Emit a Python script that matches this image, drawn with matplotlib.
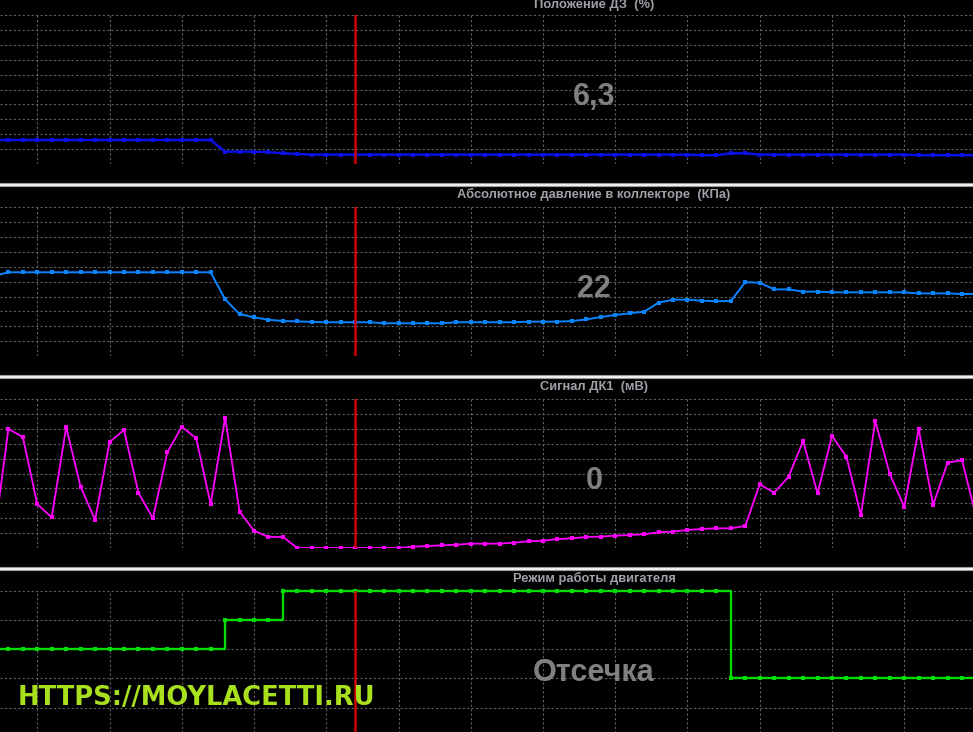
import matplotlib
matplotlib.use('Agg')
import matplotlib.pyplot as plt
from matplotlib.lines import Line2D

# sample index (cursor at sample 24)
samples = list(range(-1, 68))
cursor = 24

# Положение ДЗ (%)
tps = [16.1, 16.1, 16.1, 16.1, 16.1, 16.1, 16.1, 16.1, 16.1, 16.1, 16.1, 16.1, 16.1, 16.1, 16.1, 16.1,
       8.3, 8.3, 8.3, 7.9, 7.2, 6.7,
       6.3, 6.3, 6.3, 6.3, 6.3, 6.3, 6.3, 6.3, 6.3, 6.3, 6.3, 6.3, 6.3, 6.3, 6.3, 6.3, 6.3, 6.3,
       6.3, 6.3, 6.3, 6.3, 6.3, 6.3, 6.3, 6.3, 6.3,
       5.9, 5.9, 7.2, 7.2,
       6.3, 6.3, 6.3, 6.3, 6.3, 6.3, 6.3, 6.3, 6.3, 6.3, 6.3,
       5.9, 5.9, 5.9, 5.9, 5.9]

# Абсолютное давление в коллекторе (КПа)
map_kpa = [53.8,
           56.3, 56.3, 56.3, 56.3, 56.3, 56.3, 56.3, 56.3, 56.3, 56.3, 56.3, 56.3, 56.3, 56.3, 56.3,
           38.1, 28.2, 26.0, 24.4, 23.5, 23.3, 22.9, 22.7, 22.7, 22.7, 22.7,
           22.0, 22.0, 22.0, 22.0, 22.0, 22.7, 22.7,
           22.7, 22.7, 22.7, 23.1, 23.1, 23.1, 23.5, 24.6, 26.2, 27.6, 28.7, 29.8,
           35.9, 37.9, 37.9, 37.2, 36.8, 37.0, 49.6, 49.3, 44.8, 44.8, 43.3, 43.3,
           42.8, 42.8, 42.8, 42.8, 42.8, 42.8, 42.1, 42.1, 42.1, 41.7, 41.7]

# Сигнал ДК1 (мВ)
o2_mv = [60, 799, 745, 293, 206, 810, 411, 188, 711, 792, 371, 199, 642, 814, 736, 293,
         874, 244, 116, 74, 74,
         0, 0, 0, 0, 0, 0, 0, 0,
         9, 13, 18, 22, 29, 29, 29, 36, 45, 49, 60, 65, 74, 76, 83, 87, 92,
         105, 110, 121, 128, 132, 132, 148,
         427, 371, 479, 718, 367, 752, 613, 221, 852, 497, 277, 799, 289, 573, 589, 200]

# Режим работы двигателя
mode = [3, 3, 3, 3, 3, 3, 3, 3, 3, 3, 3, 3, 3, 3, 3, 3,
        4, 4, 4, 4,
        5, 5, 5, 5, 5, 5, 5, 5, 5, 5, 5, 5, 5, 5, 5, 5, 5, 5, 5, 5, 5, 5, 5, 5, 5, 5, 5, 5, 5, 5, 5,
        2, 2, 2, 2, 2, 2, 2, 2, 2, 2, 2, 2, 2, 2, 2, 2, 2, 2]

titles = ['Положение ДЗ  (%)', 'Абсолютное давление в коллекторе  (КПа)',
          'Сигнал ДК1  (мВ)', 'Режим работы двигателя']
values = ['6,3', '22', '0', 'Отсечка']

W, H = 973, 732
fig = plt.figure(figsize=(W / 100, H / 100), dpi=100, facecolor='black')

def px_axes(top, bottom):
    return fig.add_axes([0, (H - bottom) / H, 1, (bottom - top) / H])

grid_kw = dict(color='#606060', linestyle=(0, (2, 2)), linewidth=0.8)
mk = dict(marker='s', markersize=2.4, markeredgewidth=0)

def style(ax, ymax, ndiv):
    ax.set_facecolor('black')
    ax.set_xlim(-0.58, 66.76)
    ax.set_ylim(0, ymax)
    ax.set_xticks(range(2, 67, 5))
    ax.set_yticks([ymax * k / ndiv for k in range(ndiv + 1)])
    ax.tick_params(length=0, labelbottom=False, labelleft=False)
    for s in ax.spines.values():
        s.set_visible(False)
    ax.grid(True, **grid_kw)
    ax.set_axisbelow(True)
    ax.axvline(cursor, color='#d00000', linewidth=1.8, zorder=5)

# panel pixel bounds (grid top, grid bottom)
bounds = [(15, 164), (207.3, 356), (399, 548), (590.7, 736.7)]

ax1 = px_axes(*bounds[0])
style(ax1, 100, 10)
ax1.plot(samples, tps, color='#0a10e6', linewidth=1.8, **mk)

ax2 = px_axes(*bounds[1])
style(ax2, 100, 10)
ax2.plot(samples, map_kpa, color='#0a84ff', linewidth=1.4, **mk)

ax3 = px_axes(*bounds[2])
style(ax3, 1000, 10)
ax3.plot(samples, o2_mv, color='#ff00ff', linewidth=1.3, **mk)

ax4 = px_axes(*bounds[3])
style(ax4, 5, 5)
ax4.plot(samples, mode, color='#00dd00', linewidth=1.7, drawstyle='steps-post',
         clip_on=False, **mk)

# titles and current values
title_y = [5, 194.5, 387, 578.5]
value_y = [97, 289, 481, 673]
for t, ty, v, vy in zip(titles, title_y, values, value_y):
    fig.text(594 / W, 1 - ty / H, t, color='#a0a0a8', fontsize=9.3, fontweight='bold',
             family='Liberation Sans', ha='center', va='center')
    fig.text(594 / W, 1 - vy / H, v, color='#808080', fontsize=22, fontweight='bold',
             family='Liberation Sans', ha='center', va='center', zorder=10)

# separators between panels
for sy in [184.5, 376.7, 568.5]:
    fig.add_artist(Line2D([0, 1], [1 - sy / H] * 2, color='#9a9a9a', linewidth=3.0))
    fig.add_artist(Line2D([0, 1], [1 - sy / H] * 2, color='white', linewidth=1.2))

# watermark
fig.text(18 / W, 1 - 705 / H, 'HTTPS://MOYLACETTI.RU', color='#a8e01e', fontsize=18.5,
         fontweight='bold', family='DejaVu Sans', ha='left', va='baseline', zorder=10)

fig.savefig('out.png', dpi=100, facecolor='black')
